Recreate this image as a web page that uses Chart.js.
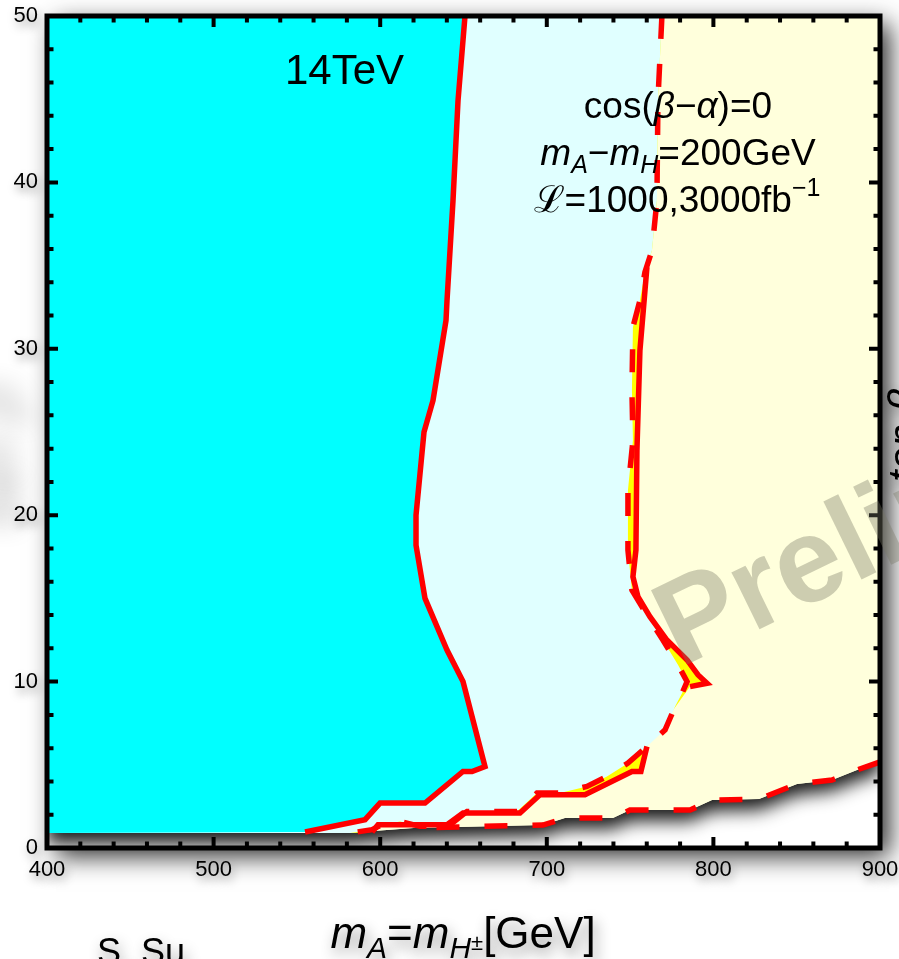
<!DOCTYPE html>
<html><head><meta charset="utf-8">
<script src="https://cdn.jsdelivr.net/npm/chart.js@4/dist/chart.umd.min.js"></script>
<style>html,body{margin:0;padding:0;background:#fff;overflow:hidden}canvas{display:block}</style>
</head><body>
<canvas id="c" width="899" height="959"></canvas>
<script>
// ---- axis ticks ----
const xTickValues = [400, 500, 600, 700, 800, 900];
const yTickValues = [0, 10, 20, 30, 40, 50];
const xRange = [400, 900];
const yRange = [0, 50];

// ---- solid contour bounding the cyan region ----
const cyanEdgeX = [650.9, 646.7, 643.7, 640.1, 639.5, 631.7, 626.3, 621.5, 621.5, 626.9, 640.1, 649.7, 662.9, 655.1, 649.7, 626.9, 599.9, 590.9, 554.9];
const cyanEdgeY = [50.0, 44.9, 38.9, 32.9, 31.7, 26.9, 25.0, 20.0, 18.2, 15.0, 11.9, 10.0, 4.9, 4.6, 4.6, 2.7, 2.7, 1.7, 0.96];

// ---- shared top part of the right contours ----
const topEdgeX = [769.1, 766.7, 766.1, 763.1];
const topEdgeY = [50.0, 44.9, 38.9, 35.9];

// ---- dashed right contour (light-cyan region boundary) ----
const dashRightX = [758.9, 755.9, 751.7, 751.1, 751.7, 748.7, 748.7, 751.1, 761.9, 769.7, 778.8, 784.2, 781.2, 777.0, 771.0, 760.1, 748.7, 736.1, 724.1, 707.9, 694.1, 682.1, 667.7, 652.1, 640.7, 623.9, 611.9, 601.1, 595.1, 581.9];
const dashRightY = [34.6, 32.9, 31.3, 27.5, 24.5, 21.5, 17.9, 15.5, 13.7, 12.5, 11.0, 10.0, 9.3, 8.5, 7.1, 6.1, 5.1, 4.3, 3.7, 3.3, 3.3, 2.2, 2.2, 2.2, 1.3, 1.3, 1.6, 1.4, 1.1, 0.9];

// ---- solid right contour (yellow region boundary) ----
const solidUpperX = [760.1, 755.9, 754.1, 753.5, 751.7, 754.7, 761.9, 772.1, 784.2, 790.8, 796.2, 786.0];
const solidUpperY = [34.9, 29.9, 23.9, 17.9, 16.3, 15.1, 13.9, 12.5, 11.3, 10.4, 9.9, 9.7];
const solidLowerX = [760.1, 756.5, 751.1, 722.9, 695.9, 683.9, 649.7, 640.1, 598.7, 595.1];
const solidLowerY = [6.1, 4.6, 4.6, 3.2, 3.2, 2.1, 2.1, 1.4, 1.4, 0.96];

// ---- lower dashed contour (bottom of light-yellow region) ----
const lowDashX = [900, 886.2, 871.2, 850.2, 827.4, 799.2, 786.0, 749.9, 739.7, 710.9, 697.7, 640.0, 620.0];
const lowDashY = [5.17, 4.69, 4.09, 3.85, 2.94, 2.88, 2.28, 2.28, 1.80, 1.80, 1.38, 1.25, 1.2];
const floorX = [600, 581.9, 400];
const floorY = [1.05, 0.9, 0.9];

const P = (xs, ys) => xs.map((x, i) => ({x, y: ys[i]}));
const pt = (x, y) => ({x, y});

const regionPts = [pt(xRange[0], yRange[1]), pt(xRange[1], yRange[1])].concat(P(lowDashX, lowDashY), P(floorX, floorY));
const solidRegion = [pt(xRange[0], yRange[1])].concat(P(topEdgeX, topEdgeY), P(solidUpperX, solidUpperY), P(solidLowerX, solidLowerY), P(floorX.slice(1), floorY.slice(1)));
const dashRegion = [pt(xRange[0], yRange[1])].concat(P(topEdgeX, topEdgeY), P(dashRightX, dashRightY), [pt(xRange[0], floorY[2])]);
const cyanRegion = P(cyanEdgeX, cyanEdgeY).concat([pt(xRange[0], floorY[2]), pt(xRange[0], yRange[1])]);

const FAM = '"Liberation Sans", Arial, Helvetica, sans-serif';
Chart.defaults.font.family = FAM;

function polyDS(data, color, order) {
  return {data, showLine: true, fill: 'shape', backgroundColor: color, borderColor: 'rgba(0,0,0,0)', borderWidth: 0, pointRadius: 0, tension: 0, order};
}
function lineDS(data, dashed, order) {
  return {data, showLine: true, fill: false, borderColor: '#ff0000', borderWidth: 5.5, borderDash: dashed ? [23, 25] : [], borderCapStyle: 'butt', borderJoinStyle: 'miter', pointRadius: 0, tension: 0, order};
}

function fontFor(kind, size) {
  switch (kind) {
    case 'i': return `italic ${size}px ${FAM}`;
    case 'isub': return `italic ${Math.round(size * 0.68)}px ${FAM}`;
    case 'sup': return `${Math.round(size * 0.68)}px ${FAM}`;
    case 'tiny': return `${Math.round(size * 0.5)}px ${FAM}`;
    default: return `${size}px ${FAM}`;
  }
}
function dyFor(kind, size) {
  if (kind === 'isub') return size * 0.22;
  if (kind === 'sup') return -size * 0.42;
  if (kind === 'tiny') return size * 0.05;
  return 0;
}
function drawRich(ctx, segs, x0, base, size, align) {
  let w = 0;
  for (const [t, k] of segs) { ctx.font = fontFor(k, size); w += ctx.measureText(t).width; }
  let x = align === 'center' ? x0 - w / 2 : x0;
  ctx.textAlign = 'left'; ctx.textBaseline = 'alphabetic';
  for (const [t, k] of segs) { ctx.font = fontFor(k, size); ctx.fillText(t, x, base + dyFor(k, size)); x += ctx.measureText(t).width; }
}
function setShadow(ctx, c, b, ox, oy) { ctx.shadowColor = c; ctx.shadowBlur = b; ctx.shadowOffsetX = ox; ctx.shadowOffsetY = oy; }

const deco = {
  id: 'deco',
  beforeDraw(chart) {
    const {ctx, chartArea: a} = chart;
    ctx.save();
    ctx.fillStyle = '#fff';
    ctx.fillRect(0, 0, chart.width, chart.height);
    // soft haze at the left edge (shadow of an off-page label)
    ctx.save();
    ctx.translate(-80, 455); ctx.rotate(-Math.PI / 2);
    ctx.font = `italic 64px ${FAM}`; ctx.textAlign = 'center'; ctx.textBaseline = 'middle';
    setShadow(ctx, 'rgba(0,0,0,0.3)', 24, 80, 0);
    ctx.fillStyle = '#000';
    ctx.fillText('tan \u03B2', 0, 0);
    ctx.restore();
    // frame drop shadow
    setShadow(ctx, 'rgba(0,0,0,0.85)', 24, 9, 8);
    ctx.fillStyle = '#fff';
    ctx.fillRect(a.left, a.top, a.right - a.left, a.bottom - a.top);
    ctx.restore();
    // tick labels drawn next get a soft shadow
    setShadow(ctx, 'rgba(0,0,0,0.4)', 10, 2, 5);
  },
  beforeDatasetsDraw(chart) {
    const {ctx, chartArea: a, scales: {x: xs, y: ys}} = chart;
    setShadow(ctx, 'rgba(0,0,0,0)', 0, 0, 0);
    ctx.save();
    ctx.beginPath(); ctx.rect(a.left, a.top, a.right - a.left, a.bottom - a.top); ctx.clip();
    ctx.beginPath();
    regionPts.forEach((p, i) => { const X = xs.getPixelForValue(p.x), Y = ys.getPixelForValue(p.y); i ? ctx.lineTo(X, Y) : ctx.moveTo(X, Y); });
    ctx.closePath();
    setShadow(ctx, 'rgba(0,0,0,0.9)', 18, 0, 11);
    ctx.fillStyle = '#ffffdc';
    ctx.fill();
    ctx.restore();
  },
  afterDatasetsDraw(chart) {
    const {ctx, chartArea: a, scales: {x: xs, y: ys}} = chart;
    ctx.save();
    setShadow(ctx, 'rgba(0,0,0,0)', 0, 0, 0);
    ctx.strokeStyle = '#000';
    ctx.lineWidth = 4;
    ctx.beginPath();
    for (let v = xRange[0]; v <= xRange[1]; v += 20) {
      const px = xs.getPixelForValue(v);
      const L = xTickValues.includes(v) ? 11 : 6.5;
      ctx.moveTo(px, a.bottom); ctx.lineTo(px, a.bottom - L);
      ctx.moveTo(px, a.top); ctx.lineTo(px, a.top + L);
    }
    for (let v = yRange[0]; v <= yRange[1]; v += 2) {
      const py = ys.getPixelForValue(v);
      const L = yTickValues.includes(v) ? 11 : 6.5;
      ctx.moveTo(a.left, py); ctx.lineTo(a.left + L, py);
      ctx.moveTo(a.right, py); ctx.lineTo(a.right - L, py);
    }
    ctx.stroke();
    ctx.lineWidth = 5;
    ctx.strokeRect(a.left, a.top, a.right - a.left, a.bottom - a.top);
    ctx.restore();
  },
  afterDraw(chart) {
    const {ctx} = chart;
    ctx.save();
    ctx.fillStyle = '#000';
    setShadow(ctx, 'rgba(0,0,0,0)', 0, 0, 0);
    ctx.font = `42px ${FAM}`; ctx.textAlign = 'left'; ctx.textBaseline = 'alphabetic';
    ctx.fillText('14TeV', 285, 84);
    drawRich(ctx, [['cos(', 'n'], ['\u03B2', 'i'], ['\u2212', 'n'], ['\u03B1', 'i'], [')=0', 'n']], 678, 118, 37, 'center');
    drawRich(ctx, [['m', 'i'], ['A', 'isub'], ['\u2212', 'n'], ['m', 'i'], ['H', 'isub'], ['=200GeV', 'n']], 678, 165, 37, 'center');
    drawRich(ctx, [['\u2112', 'n'], ['=1000,3000fb', 'n'], ['\u22121', 'sup']], 677, 212, 37, 'center');
    // axis titles with soft shadow
    setShadow(ctx, 'rgba(0,0,0,0.45)', 14, 3, 7);
    drawRich(ctx, [['m', 'i'], ['A', 'isub'], ['=', 'n'], ['m', 'i'], ['H', 'isub'], ['\u00B1', 'tiny'], ['[GeV]', 'n']], 463, 948, 44, 'center');
    ctx.font = `36px ${FAM}`; ctx.textAlign = 'left';
    ctx.fillText('S. Su', 97, 964);
    ctx.save();
    ctx.translate(918, 435); ctx.rotate(-Math.PI / 2);
    drawRich(ctx, [['tan ', 'i'], ['\u03B2', 'i']], 0, 0, 42, 'center');
    ctx.restore();
    // watermark
    setShadow(ctx, 'rgba(0,0,0,0)', 0, 0, 0);
    ctx.translate(680, 668); ctx.rotate(-26 * Math.PI / 180);
    ctx.font = `bold 120px ${FAM}`; ctx.textAlign = 'left';
    ctx.fillStyle = 'rgba(120,120,100,0.37)';
    ctx.fillText('Preliminary', 0, 0);
    ctx.restore();
  }
};

new Chart(document.getElementById('c'), {
  type: 'scatter',
  data: {
    datasets: [
      polyDS(regionPts, '#ffffdc', 10),
      polyDS(solidRegion, '#ffff00', 9),
      polyDS(dashRegion, '#e0ffff', 8),
      polyDS(cyanRegion, '#00ffff', 7),
      lineDS(P(lowDashX, lowDashY), true, 5),
      lineDS(P(solidLowerX, solidLowerY), false, 4),
      lineDS(P(solidUpperX, solidUpperY), false, 3),
      lineDS(P(topEdgeX, topEdgeY).concat(P(dashRightX, dashRightY)), true, 2),
      lineDS(P(cyanEdgeX, cyanEdgeY), false, 1)
    ]
  },
  options: {
    responsive: false,
    animation: false,
    devicePixelRatio: 1,
    events: [],
    layout: {padding: {left: 0, right: 19, top: 16, bottom: 0}},
    plugins: {legend: {display: false}, tooltip: {enabled: false}},
    scales: {
      x: {
        type: 'linear', min: xRange[0], max: xRange[1],
        afterBuildTicks: s => { s.ticks = xTickValues.map(v => ({value: v})); },
        afterFit: s => { s.height = 111; s.paddingLeft = 0; s.paddingRight = 0; },
        grid: {display: false, drawTicks: false},
        border: {display: false},
        ticks: {font: {size: 22}, color: '#000', padding: 9, maxRotation: 0}
      },
      y: {
        type: 'linear', min: yRange[0], max: yRange[1],
        afterBuildTicks: s => { s.ticks = yTickValues.map(v => ({value: v})); },
        afterFit: s => { s.width = 47; s.paddingTop = 0; s.paddingBottom = 0; },
        grid: {display: false, drawTicks: false},
        border: {display: false},
        ticks: {font: {size: 22}, color: '#000', padding: 9}
      }
    }
  },
  plugins: [deco]
});
</script>
</body></html>
